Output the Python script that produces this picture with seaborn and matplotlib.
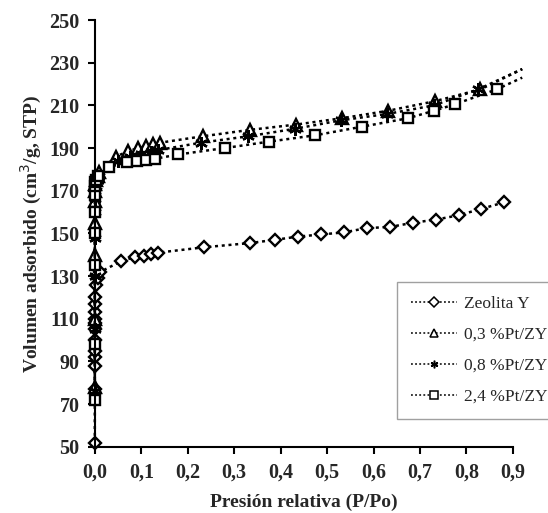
import matplotlib
matplotlib.use("Agg")
import matplotlib.pyplot as plt
import seaborn as sns
import pandas as pd

# Zeolita Y
zy_x = [0.0, 0.0, 0.0, 0.0, 0.0, 0.0, 0.0, 0.0, 0.0, 0.0, 0.0, 0.0, 0.002, 0.006, 0.012,
        0.057, 0.087, 0.105, 0.122, 0.137, 0.235, 0.335, 0.388, 0.437, 0.487, 0.537,
        0.585, 0.635, 0.685, 0.735, 0.783, 0.832, 0.88]
zy_y = [52, 77, 88, 92, 95, 100, 105, 108, 110, 113, 117, 120, 126, 129, 132,
        137, 139, 139.5, 140.5, 141, 143.5, 145.5, 147, 148.5, 149.5, 150.5,
        152.5, 153, 155, 156.5, 158.5, 161.5, 164.5]

# 0,3 %Pt/ZY
p03_x = [0.0, 0.0, 0.0, 0.0, 0.0, 0.0, 0.001, 0.003, 0.006, 0.01,
         0.045, 0.072, 0.093, 0.11, 0.125, 0.14, 0.232, 0.333, 0.433, 0.533,
         0.632, 0.733, 0.83, 0.92]
p03_y = [78, 110, 140, 155, 165, 170, 173, 175, 177, 179,
         186, 188.5, 190, 191, 192, 192.5, 195.5, 198.5, 201, 204,
         207.5, 212, 217.5, 227]

# 0,8 %Pt/ZY
p08_x = [0.0, 0.0, 0.0, 0.0, 0.0, 0.0, 0.001, 0.003, 0.006, 0.01,
         0.05, 0.075, 0.1, 0.12, 0.135, 0.228, 0.33, 0.43, 0.53,
         0.63, 0.73, 0.825, 0.92]
p08_y = [76, 105, 130, 148, 160, 166, 170, 172, 175, 177,
         184, 186, 187, 188, 189, 192.5, 195.5, 199, 203,
         206, 210, 217.5, 227]

# 2,4 %Pt/ZY
p24_x = [0.0, 0.0, 0.0, 0.0, 0.0, 0.0, 0.0, 0.001, 0.003, 0.006,
         0.03, 0.07, 0.09, 0.11, 0.13, 0.18, 0.28, 0.375, 0.475, 0.575,
         0.675, 0.73, 0.775, 0.865, 0.92]
p24_y = [72, 98, 135, 150, 160, 168, 172, 174, 175, 177,
         181, 183.5, 184, 184.5, 185, 187, 190, 193, 196, 200,
         204, 207.5, 210.5, 217.5, 223]

series = [
    ("Zeolita Y", zy_x, zy_y, "D", 6.5, False),
    ("0,3 %Pt/ZY", p03_x, p03_y, "^", 8, True),
    ("0,8 %Pt/ZY", p08_x, p08_y, (6, 2, 0), 9, True),
    ("2,4 %Pt/ZY", p24_x, p24_y, "s", 7, True),
]

y_ticks = [50, 70, 90, 110, 130, 150, 170, 190, 210, 230, 250]
x_ticks = [0.0, 0.1, 0.2, 0.3, 0.4, 0.5, 0.6, 0.7, 0.8, 0.9]
x_labels = ["0,0", "0,1", "0,2", "0,3", "0,4", "0,5", "0,6", "0,7", "0,8", "0,9"]

sns.set_theme(style="white")
plt.rcParams["font.family"] = ["Liberation Serif", "DejaVu Serif"]

fig = plt.figure(figsize=(5.48, 5.13), dpi=100)
ax = fig.add_axes([0.173, 0.129, 0.763, 0.832])

for name, xs, ys, mk, ms, skip_last in series:
    df = pd.DataFrame({"x": xs, "y": ys})
    n = len(xs)
    me = list(range(n - 1)) if skip_last else list(range(n))
    lines_before = len(ax.lines)
    sns.lineplot(data=df, x="x", y="y", ax=ax, sort=False, estimator=None,
                 color="black", linestyle=(0, (1.2, 1.5)), linewidth=1.8,
                 marker=mk, markersize=ms, markerfacecolor="white",
                 markeredgecolor="black", markeredgewidth=1.7,
                 markevery=me, label=name)
    for ln in ax.lines[lines_before:]:
        ln.set_clip_on(False)

ax.set_xlim(0, 0.9)
ax.set_ylim(50, 250)
ax.set_xticks(x_ticks)
ax.set_xticklabels(x_labels)
ax.set_yticks(y_ticks)
for s in ["top", "right"]:
    ax.spines[s].set_visible(False)
for s in ["left", "bottom"]:
    ax.spines[s].set_color("black")
    ax.spines[s].set_linewidth(1.5)
ax.tick_params(axis="both", direction="out", length=5, width=1.5, color="black",
               labelsize=14.5, pad=6, bottom=True, left=True)
for lbl in ax.get_xticklabels() + ax.get_yticklabels():
    lbl.set_fontweight("bold")

ax.set_xlabel("Presión relativa (P/Po)", fontsize=14, fontweight="bold", labelpad=8)
ax.set_ylabel("Volumen adsorbido (cm$^3$/g, STP)", fontsize=14, fontweight="bold", labelpad=4)

leg = ax.legend(loc="upper left", bbox_to_anchor=(0.722, 0.386), frameon=True,
                fancybox=False, edgecolor="#888888", fontsize=12.5,
                handlelength=2.7, labelspacing=0.85, borderpad=0.8,
                handletextpad=0.35, borderaxespad=0)
leg.get_frame().set_linewidth(1.0)
for h in leg.legend_handles:
    h.set_markersize(5.5)
    h.set_markeredgewidth(1.1)
    h.set_linewidth(1.1)

fig.savefig("out.png", dpi=100, facecolor="white")
